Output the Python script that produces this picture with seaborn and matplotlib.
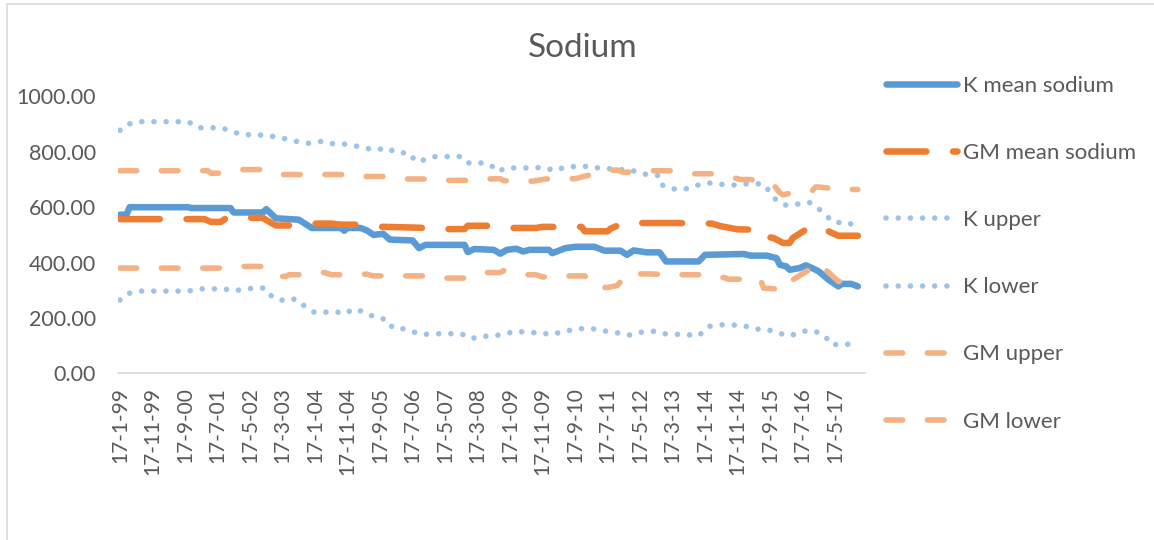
import matplotlib
matplotlib.use("Agg")
import matplotlib.pyplot as plt
from matplotlib.patches import Rectangle
import pandas as pd
import seaborn as sns

# Months counted from January 1999 (0 = Jan 1999)
k_mean_month = [0, 2, 3, 21, 22, 34, 35, 44, 45, 48, 55, 57, 59, 68, 69, 70, 74, 76, 78, 81,
                83, 90, 92, 94, 106, 107, 109, 115, 117, 119, 122, 124, 126, 132, 133, 137,
                140, 146, 149, 154, 156, 158, 162, 166, 168, 178, 180, 192, 194, 199, 202,
                203, 205, 206, 209, 211, 213, 215, 218, 221, 222, 225, 227]
k_mean = [573, 573, 600, 600, 597, 597, 581, 581, 593, 560, 555, 540, 525, 525, 515, 525, 525,
          516, 500, 504, 483, 480, 452, 464, 464, 438, 449, 446, 432, 446, 450, 440, 446, 446,
          434, 452, 457, 457, 443, 443, 428, 444, 437, 437, 404, 404, 428, 431, 425, 425, 416,
          392, 386, 374, 380, 390, 380, 368, 338, 314, 323, 323, 314]

gm_mean_month = [0, 26, 28, 31, 33, 44, 46, 48, 54, 58, 65, 68, 72, 78, 92, 99, 106, 107, 113,
                 117, 128, 130, 142, 143, 150, 151, 155, 171, 177, 182, 185, 190, 197, 198, 201,
                 204, 206, 207, 211, 214, 216, 219, 221, 227]
gm_mean = [557, 557, 547, 547, 563, 561, 547, 534, 534, 541, 541, 537, 537, 530, 526, 521, 521,
           533, 533, 525, 525, 529, 529, 513, 513, 523, 543, 543, 541, 541, 531, 520, 519, 495,
           489, 471, 471, 489, 519, 533, 525, 507, 497, 497]

k_upper_month = [0, 2, 6, 21, 24, 31, 34, 37, 45, 48, 51, 55, 58, 62, 65, 69, 72, 75, 79, 82, 85,
                 89, 91, 94, 97, 105, 107, 110, 114, 116, 119, 127, 130, 134, 137, 145, 148, 152,
                 155, 159, 162, 166, 167, 170, 174, 177, 181, 184, 188, 192, 195, 198, 202, 205,
                 209, 212, 215, 217, 220, 223, 227]
k_upper = [878, 899, 909, 909, 887, 887, 877, 863, 860, 854, 847, 836, 831, 838, 830, 828, 823,
           814, 807, 815, 797, 796, 765, 772, 783, 783, 760, 762, 754, 729, 742, 742, 744, 732,
           746, 748, 739, 739, 735, 730, 718, 714, 679, 666, 666, 678, 688, 684, 679, 684, 685,
           684, 624, 607, 612, 618, 594, 571, 543, 547, 531]

k_lower_month = [0, 2, 6, 21, 24, 32, 35, 39, 43, 45, 47, 51, 54, 57, 60, 63, 67, 69, 72, 75, 79,
                 82, 84, 87, 91, 94, 98, 105, 108, 111, 114, 118, 122, 125, 129, 133, 136, 140,
                 143, 147, 151, 154, 157, 160, 164, 167, 171, 175, 178, 181, 184, 188, 192, 195,
                 199, 202, 206, 209, 212, 215, 217, 219, 222, 227]
k_lower = [265, 287, 297, 297, 305, 305, 298, 305, 310, 305, 273, 261, 269, 241, 219, 221, 221,
           214, 233, 222, 199, 195, 163, 161, 147, 141, 143, 143, 125, 134, 134, 141, 153, 147,
           147, 139, 151, 158, 163, 159, 148, 145, 138, 148, 152, 143, 141, 139, 135, 169, 175,
           175, 172, 160, 159, 147, 135, 147, 156, 147, 133, 102, 107, 102]

gm_upper_month = [0, 27, 28, 31, 36, 44, 49, 69, 75, 82, 88, 95, 101, 107, 113, 117, 118, 127,
                  131, 140, 143, 151, 153, 155, 164, 170, 176, 182, 189, 191, 194, 201, 203, 204,
                  210, 213, 214, 215, 222, 227]
gm_upper = [732, 732, 723, 723, 736, 736, 718, 718, 711, 711, 702, 702, 697, 697, 702, 703, 696,
            694, 702, 703, 712, 734, 734, 726, 732, 732, 721, 721, 706, 700, 700, 682, 652, 645,
            660, 660, 673, 673, 664, 664]

gm_lower_month = [0, 31, 37, 44, 49, 51, 52, 55, 61, 63, 65, 68, 74, 76, 78, 93, 99, 106, 112,
                  117, 118, 124, 128, 130, 137, 143, 146, 150, 153, 156, 163, 170, 182, 184, 186,
                  187, 197, 198, 205, 206, 207, 212, 214, 216, 221, 225, 227]
gm_lower = [380, 380, 386, 386, 350, 350, 356, 356, 364, 364, 356, 356, 358, 358, 352, 352, 344,
            344, 364, 364, 371, 356, 356, 348, 352, 352, 310, 310, 317, 359, 359, 356, 356, 346,
            346, 340, 340, 308, 302, 320, 338, 374, 398, 386, 332, 332, 314]

tick_month = list(range(0, 221, 10))
tick_labels = ["17-1-99", "17-11-99", "17-9-00", "17-7-01", "17-5-02", "17-3-03", "17-1-04",
               "17-11-04", "17-9-05", "17-7-06", "17-5-07", "17-3-08", "17-1-09", "17-11-09",
               "17-9-10", "17-7-11", "17-5-12", "17-3-13", "17-1-14", "17-11-14", "17-9-15",
               "17-7-16", "17-5-17"]
y_ticks = [0, 200, 400, 600, 800, 1000]

sns.set_theme(style="white")
plt.rcParams["font.family"] = ["Lato", "DejaVu Sans"]

TXT = "#595959"
BLUE = "#5B9BD5"
ORANGE = "#ED7D31"
LIGHT_BLUE = "#9DC3E6"
LIGHT_ORANGE = "#F4B183"

W, H = 1154, 540
fig = plt.figure(figsize=(W / 100, H / 100), dpi=100)
fig.patch.set_facecolor("white")

ax = fig.add_axes([118 / W, 1 - 373.3 / H, (865 - 118) / W, (373.3 - 96.5) / H])
ax.set_facecolor("white")

series = [
    ("K mean sodium", k_mean_month, k_mean, BLUE, 4.7, "-"),
    ("GM mean sodium", gm_mean_month, gm_mean, ORANGE, 4.7, (0, (6.1, 4.1))),
    ("K upper", k_upper_month, k_upper, LIGHT_BLUE, 4.0, (0, (0.01, 2.18))),
    ("K lower", k_lower_month, k_lower, LIGHT_BLUE, 4.0, (0, (0.01, 2.18))),
    ("GM upper", gm_upper_month, gm_upper, LIGHT_ORANGE, 4.0, (0, (3.0, 4.45))),
    ("GM lower", gm_lower_month, gm_lower, LIGHT_ORANGE, 4.0, (0, (3.0, 4.45))),
]

for label, months, values, color, lw, ls in series:
    df = pd.DataFrame({"month": months, "value": values})
    sns.lineplot(data=df, x="month", y="value", ax=ax, color=color, linewidth=lw,
                 linestyle=ls, label=label, solid_capstyle="round", dash_capstyle="round",
                 solid_joinstyle="round", dash_joinstyle="round")

ax.set_xlim(-0.6, 229.2)
ax.set_ylim(0, 1000)
ax.set_xticks(tick_month)
ax.set_xticklabels(tick_labels, rotation=90, va="top", ha="center")
ax.set_yticks(y_ticks)
ax.set_yticklabels([f"{v:.2f}" for v in y_ticks])
ax.tick_params(axis="x", length=0, pad=10, labelsize=15, labelcolor=TXT)
ax.tick_params(axis="y", length=0, pad=16, labelsize=15.5, labelcolor=TXT)
ax.set_xlabel("")
ax.set_ylabel("")
ax.grid(False)
for side in ("top", "right", "left"):
    ax.spines[side].set_visible(False)
ax.spines["bottom"].set_color("#D9D9D9")
ax.spines["bottom"].set_linewidth(1.2)

leg = ax.legend(loc="upper left", bbox_to_anchor=(886 / W, 1 - 76 / H),
                bbox_transform=fig.transFigure, frameon=False, fontsize=16,
                handlelength=3.2, handletextpad=0.26, labelspacing=2.12,
                borderpad=0, borderaxespad=0)
for t in leg.get_texts():
    t.set_color(TXT)

fig.text(583 / W, 1 - 48 / H, "Sodium", ha="center", va="center", fontsize=24, color=TXT)

# chart frame
fig.add_artist(Rectangle((6.5 / W, -0.2), 1.5, 1.2 - 4 / H, transform=fig.transFigure,
                         fill=False, edgecolor="#D9D9D9", linewidth=1.2))

fig.savefig("out.png", dpi=100, facecolor="white")
